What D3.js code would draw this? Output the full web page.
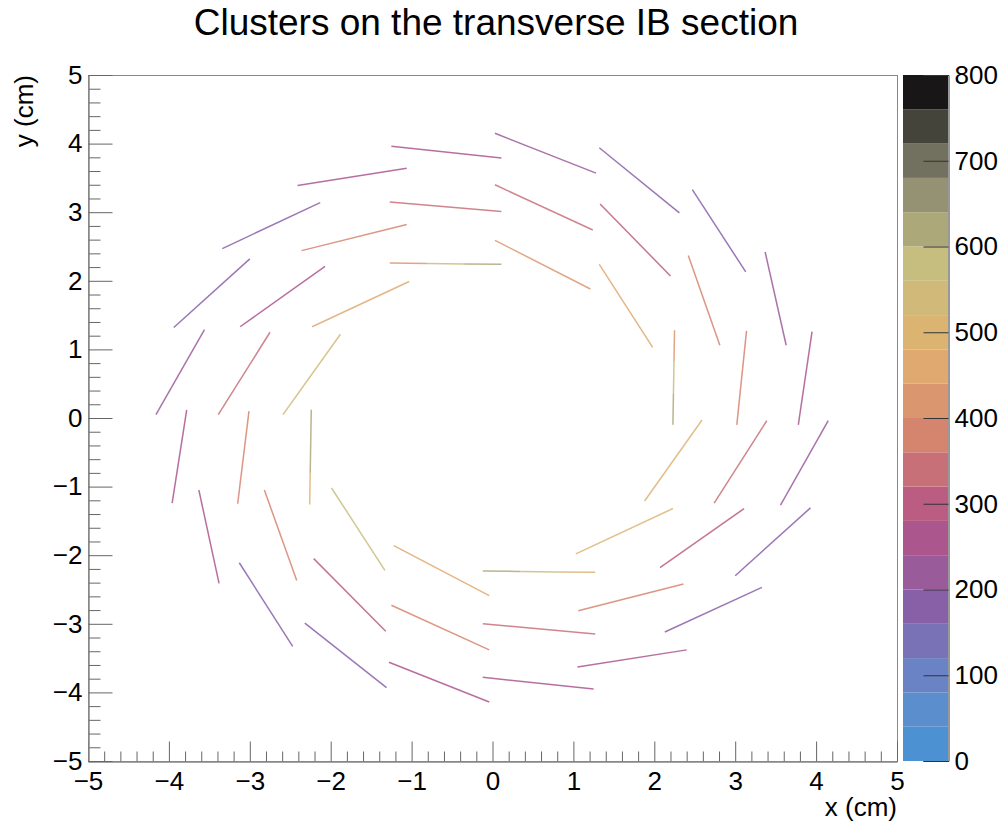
<!DOCTYPE html>
<html>
<head>
<meta charset="utf-8">
<script src="https://cdn.jsdelivr.net/npm/d3@7"></script>
<style>
  body { margin: 0; background: #fff; }
  text { font-family: "Liberation Sans", Arial, sans-serif; }
</style>
</head>
<body>
<svg id="chart" width="1004" height="825"></svg>
<script>
// stave ends, in cm: [x1, y1, x2, y2]
var layer0Staves = [
  [-1.27, 2.26, 0.11, 2.24], [-2.23, 1.33, -1.03, 1.99], [-2.59, 0.05, -1.88, 1.22],
  [-2.24, 0.12, -2.26, -1.26], [-1.99, -1.02, -1.33, -2.22], [-1.22, -1.86, -0.04, -2.59],
  [-0.12, -2.23, 1.27, -2.25], [1.03, -1.98, 2.23, -1.32], [1.88, -1.21, 2.59, -0.03],
  [2.25, 1.28, 2.23, -0.10], [1.32, 2.24, 1.98, 1.03], [0.03, 2.59, 1.21, 1.88]
];
var layer1Staves = [
  [-1.27, 3.15, 0.11, 3.01], [-2.36, 2.44, -1.06, 2.82], [-3.12, 1.33, -2.07, 2.21],
  [-3.39, 0.05, -2.75, 1.25], [-3.01, 0.10, -3.15, -1.25], [-2.82, -1.05, -2.42, -2.37],
  [-2.21, -2.05, -1.32, -3.11], [-1.25, -2.73, -0.04, -3.38], [-0.12, -3.00, 1.27, -3.15],
  [1.06, -2.81, 2.36, -2.42], [2.07, -2.18, 3.11, -1.32], [2.74, -1.24, 3.39, -0.04],
  [3.14, 1.27, 3.02, -0.10], [2.42, 2.37, 2.81, 1.06], [1.33, 3.12, 2.20, 2.07],
  [0.03, 3.40, 1.24, 2.74]
];
var layer2Staves = [
  [-1.25, 3.96, 0.11, 3.79], [-2.41, 3.39, -1.06, 3.64], [-3.34, 2.47, -2.13, 3.14],
  [-3.94, 1.32, -3.00, 2.32], [-4.16, 0.05, -3.56, 1.29], [-3.78, 0.12, -3.96, -1.24],
  [-3.63, -1.05, -3.38, -2.41], [-3.13, -2.11, -2.47, -3.33], [-2.32, -2.99, -1.31, -3.93],
  [-1.28, -3.56, -0.04, -4.14], [-0.12, -3.78, 1.25, -3.95], [1.05, -3.63, 2.40, -3.38],
  [2.13, -3.12, 3.33, -2.47], [3.00, -2.30, 3.93, -1.31], [3.56, -1.27, 4.15, -0.04],
  [3.95, 1.26, 3.78, -0.10], [3.37, 2.42, 3.63, 1.06], [2.47, 3.33, 3.13, 2.13],
  [1.32, 3.94, 2.31, 2.99], [0.03, 4.15, 1.28, 3.57]
];

// cluster counts along each stave (one value per visible section)
var layer0Counts = [
  [430, 560, 610], [450], [530], [610, 620, 480], [560], [450],
  [620, 590, 480], [500], [480], [420, 560, 610], [460], [420]
];
var layer1Counts = [
  [340], [370], [250], [320], [390], [370], [310], [370],
  [350], [370], [290], [320], [390], [390], [290], [350]
];
var layer2Counts = [
  [250], [240], [190], [180], [200], [270], [270], [170], [170], [270],
  [270], [270], [180], [180], [200], [270], [230], [180], [180], [200]
];

var zTicks = [0, 100, 200, 300, 400, 500, 600, 700, 800];
// kCMYK palette stops
var paletteColors = ['#3d95d6', '#638ccb', '#8860a8', '#b55387', '#d5846e',
                     '#e1b26f', '#c6be7f', '#888771', '#181616'];

var svg = d3.select('#chart');
var frame = {left: 88, right: 897, top: 75, bottom: 761};
var bar = {left: 903, right: 948};
var nBands = 20, zMax = 800;
var labelSize = 26;

var x = d3.scaleLinear().domain([-5, 5]).range([frame.left, frame.right]);
var y = d3.scaleLinear().domain([-5, 5]).range([frame.bottom, frame.top]);
var z = d3.scaleLinear().domain([0, zMax]).range([frame.bottom, frame.top]);

var palette = d3.scaleLinear()
  .domain(paletteColors.map(function(c, i) { return i / (paletteColors.length - 1); }))
  .range(paletteColors)
  .interpolate(d3.interpolateRgb);

function bandColor(band) {
  return palette(Math.min(1, (band + 0.99) / nBands));
}

function countColor(v) {
  var band = Math.min(nBands - 1, Math.floor(v / (zMax / nBands)));
  return bandColor(band);
}

// title
svg.append('text')
  .attr('x', 496).attr('y', 35)
  .attr('text-anchor', 'middle')
  .attr('font-size', 37)
  .text('Clusters on the transverse IB section');

// frame
svg.append('rect')
  .attr('x', frame.left + 0.5).attr('y', frame.top + 0.5)
  .attr('width', frame.right - frame.left).attr('height', frame.bottom - frame.top)
  .attr('fill', 'none').attr('stroke', '#888');

// staves, split in sections
var segments = [];
[[layer0Staves, layer0Counts], [layer1Staves, layer1Counts], [layer2Staves, layer2Counts]]
  .forEach(function(layer) {
    layer[0].forEach(function(s, i) {
      var counts = layer[1][i];
      counts.forEach(function(c, k) {
        var t0 = k / counts.length, t1 = (k + 1) / counts.length;
        segments.push({
          x1: s[0] + (s[2] - s[0]) * t0, y1: s[1] + (s[3] - s[1]) * t0,
          x2: s[0] + (s[2] - s[0]) * t1, y2: s[1] + (s[3] - s[1]) * t1,
          count: c
        });
      });
    });
  });

svg.append('g').selectAll('line').data(segments).enter().append('line')
  .attr('x1', function(d) { return x(d.x1); })
  .attr('y1', function(d) { return y(d.y1); })
  .attr('x2', function(d) { return x(d.x2); })
  .attr('y2', function(d) { return y(d.y2); })
  .attr('stroke', function(d) { return countColor(d.count); })
  .attr('stroke-opacity', 0.85)
  .attr('stroke-width', 1.5);

// axes
function styleAxis(g) {
  g.selectAll('path.domain').attr('stroke', '#888');
  g.selectAll('.tick line').attr('stroke', '#666');
  g.selectAll('text').attr('font-size', labelSize).attr('fill', '#000')
    .style('font-family', '"Liberation Sans", Arial, sans-serif');
}

var majorTicks = d3.range(-5, 5.01, 1);
var minorTicks = d3.range(-5, 5.01, 0.2).filter(function(v) {
  return Math.abs(v - Math.round(v)) > 1e-6;
});

svg.append('g')
  .attr('transform', 'translate(0,' + (frame.bottom + 0.5) + ')')
  .call(d3.axisBottom(x).tickValues(minorTicks).tickSize(-10).tickFormat(''))
  .call(styleAxis);
svg.append('g')
  .attr('transform', 'translate(0,' + (frame.bottom + 0.5) + ')')
  .call(d3.axisBottom(x).tickValues(majorTicks).tickSize(-20).tickPadding(10)
    .tickFormat(d3.format('d')))
  .call(styleAxis);

svg.append('g')
  .attr('transform', 'translate(' + (frame.left + 0.5) + ',0)')
  .call(d3.axisLeft(y).tickValues(minorTicks).tickSize(-12).tickFormat(''))
  .call(styleAxis);
svg.append('g')
  .attr('transform', 'translate(' + (frame.left + 0.5) + ',0)')
  .call(d3.axisLeft(y).tickValues(majorTicks).tickSize(-24).tickPadding(6)
    .tickFormat(d3.format('d')))
  .call(styleAxis);

svg.append('text')
  .attr('x', frame.right).attr('y', 816)
  .attr('text-anchor', 'end').attr('font-size', labelSize)
  .text('x (cm)');
svg.append('text')
  .attr('transform', 'translate(33,' + frame.top + ') rotate(-90)')
  .attr('text-anchor', 'end').attr('font-size', labelSize)
  .text('y (cm)');

// colour bar
svg.append('g').selectAll('rect').data(d3.range(nBands)).enter().append('rect')
  .attr('x', bar.left)
  .attr('y', function(i) { return z((i + 1) * zMax / nBands); })
  .attr('width', bar.right - bar.left)
  .attr('height', function(i) { return z(i * zMax / nBands) - z((i + 1) * zMax / nBands); })
  .attr('fill', function(i) { return bandColor(i); });

svg.append('g')
  .attr('transform', 'translate(' + (bar.right + 0.5) + ',0)')
  .call(d3.axisRight(z).tickValues(zTicks).tickSize(-25).tickPadding(6)
    .tickFormat(d3.format('d')))
  .call(styleAxis)
  .call(function(g) {
    g.selectAll('path.domain').attr('stroke', '#333');
    g.selectAll('.tick line').attr('stroke', '#333');
  });
</script>
</body>
</html>
